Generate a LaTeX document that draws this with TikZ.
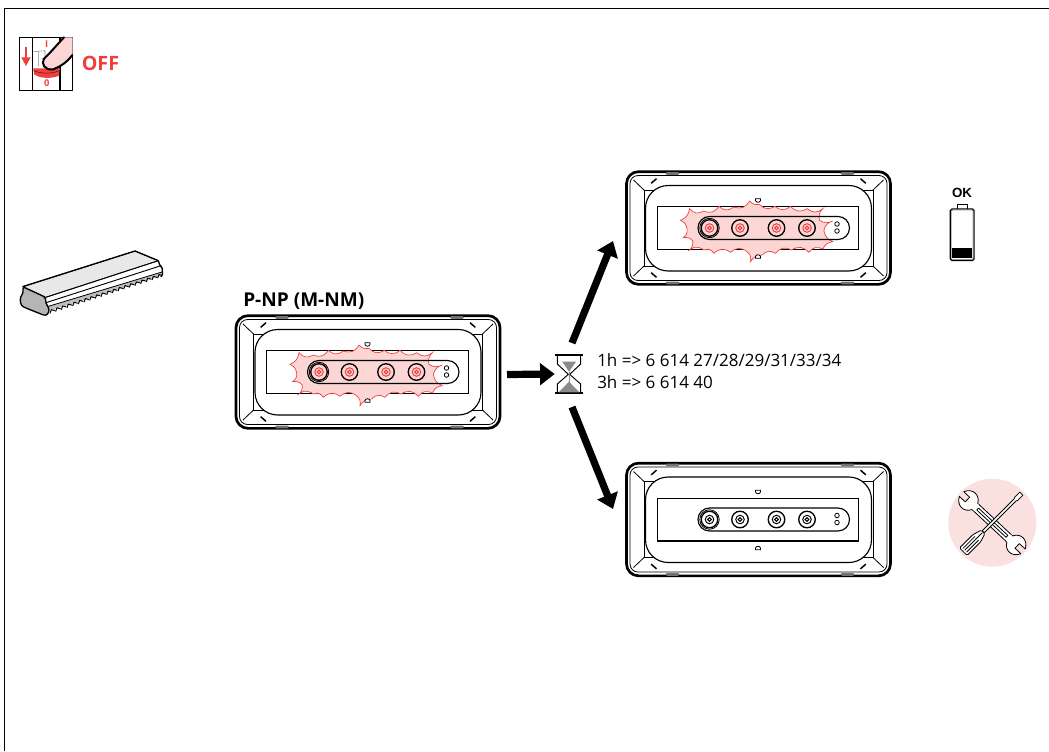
\documentclass[tikz,border=0pt]{standalone}
\usepackage{fontspec}
\setmainfont{Open Sans}
\newfontfamily\okfont{Liberation Sans}
\definecolor{alarm}{HTML}{EE3F3D}
\definecolor{blush}{HTML}{FBD6D5}
\definecolor{ghost}{HTML}{FBE0E0}
\definecolor{sand}{HTML}{8A8A8A}
\definecolor{face}{HTML}{E8E8E8}
\definecolor{endface}{HTML}{B5B5B5}
\usetikzlibrary{arrows.meta,calc}
\tikzset{
  thinl/.style={line width=.6pt,black},
  midl/.style={line width=.85pt,black},
  modbox/.style={draw=black,line width=2pt,rounded corners=9pt,minimum width=198pt,minimum height=84.5pt,inner sep=0pt,fill=white},
  bigarrow/.style={line width=5.4pt,black,-{Triangle[length=11pt,width=16pt]}},
  burst/.style={draw=alarm,line width=.5pt,fill=blush},
  zoomu/.style={x=.25pt,y=-.25pt},
  plain/.style={inner sep=0pt,anchor=west},
  sp/.style={bend right=38,looseness=1.2},
  sq/.style={bend right=28,looseness=1.1}
}
\newcommand{\lampbody}[3]{%
\begin{scope}[shift={#1}]
  \draw[thinl,rounded corners=6pt] (4.5,4.5) rectangle (261.5,109.5);
  \foreach \bx in {40,215}{
    \fill[black!55,rounded corners=1pt] (\bx,1) rectangle ++(14,2.8);
    \fill[black!55,rounded corners=1pt] (\bx,110.5) rectangle ++(14,2.8);
  }
  \draw[thinl] (18.5,19) rectangle (247.5,95);
  \draw[thinl] (8,9) -- (18.5,19) (258,9) -- (247.5,19) (8,105) -- (18.5,95) (258,105) -- (247.5,95);
  \draw[line width=1.1pt] (25.7,12.3) -- (31,7.7) (240.3,12.3) -- (235,7.7) (25.7,101.7) -- (31,106.3) (240.3,101.7) -- (235,106.3);
  \draw[midl,fill=white,rounded corners=17pt] (20,14.5) rectangle (246,100);
  \draw[midl] (31.7,35.7) rectangle (233.3,78.5);
  #3
  \draw[midl,rounded corners=8.6pt] (72.5,45.5) rectangle (224,68.5);
  \foreach \cx in {84,114.5,151,181.5}{
    \draw[line width=1pt] (\cx,57) circle[radius=6.2pt];
    \draw[#2,line width=.7pt] (\cx,57) circle[radius=3.2pt];
    \draw[#2,line width=.7pt] (\cx,57) circle[radius=1.4pt];
  }
  \draw[line width=.6pt] (84,57) circle[radius=7.3pt];
  \draw[thinl] (211.5,53) circle[radius=1.7pt] (211.5,60) circle[radius=1.7pt];
  \draw[thinl,fill=white] (130,27.7) -- (135,27.7) -- (135,29.5) .. controls (134.5,31.8) and (130.5,31.8) .. (130,29.5) -- cycle;
  \draw[thinl,fill=white] (130,87.3) -- (135,87.3) -- (135,85.5) .. controls (134.5,83.2) and (130.5,83.2) .. (130,85.5) -- cycle;
\end{scope}}
\newcommand{\burstshape}{%
\begin{scope}[shift={(-10,-30)},zoomu]
  \draw[burst] (195,238) to[sq] (222,203) to[sp] (265,210)
   to[sp] (310,196) to[sp] (355,198) to[sp] (402,180)
   to[sq] (432,190) to[sp] (478,196) to[sp] (525,196)
   to[sp] (575,203) to[sp] (622,203) to[sq] (612,238)
   to[sq] (652,240) to[sq] (625,268) to[sq] (652,302)
   to[sq] (622,324) to[sp] (580,334) to[sp] (528,327)
   to[sp] (480,337) to[sp] (440,342) to[sq] (405,362)
   to[sq] (395,332) to[sp] (345,334) to[sp] (295,337)
   to[sp] (265,327) to[sp] (218,330) to[sq] (232,300)
   to[sq] (203,290) to[sq] (215,265) to[sq] (195,238) -- cycle;
\end{scope}}
\begin{document}
\begin{tikzpicture}[x=.75pt,y=-.75pt]
\useasboundingbox (0,0) rectangle (1049,751);
% frame
\draw[line width=1pt] (4.5,751) -- (4.5,8.5) -- (1049,8.5);

% switch icon
\begin{scope}[zoomu]
  \draw[line width=.85pt] (58,112) rectangle (218,272);
  \draw[line width=.85pt] (98,112) -- (98,272) (180,112) -- (180,272);
  \draw[black!45,line width=.4pt] (101,155) -- (135,152) -- (135,200) (116,155) -- (116,200) (124,175) -- (150,175);
  \fill[alarm] (100,205) -- (180,205) -- (176,228) .. controls (150,236) and (125,236) .. (103,224) -- cycle;
  \draw[black!60!alarm,line width=.4pt] (100,212) .. controls (125,222) and (155,222) .. (178,212);
  \fill[alarm] (75,142) rectangle (81,175);
  \fill[alarm] (64,172) -- (92,172) -- (78,198) -- cycle;
  \fill[blush] (192,112) .. controls (170,135) and (150,160) .. (132,176) .. controls (122,192) and (135,212) .. (160,208) .. controls (180,200) and (200,188) .. (218,165) -- (218,112) -- cycle;
  \draw[line width=1.5pt,line cap=round] (192,112) .. controls (170,135) and (150,160) .. (132,176) .. controls (122,192) and (135,212) .. (160,208) .. controls (180,200) and (200,188) .. (217,165);
  \node[inner sep=0pt,text=alarm,font=\bfseries\fontsize{7}{7}\selectfont] (swI) at (140,133) {I};
  \node[inner sep=0pt,text=alarm,font=\bfseries\fontsize{7}{7}\selectfont] (sw0) at (140,250) {0};
\end{scope}
\node[plain,text=alarm,font=\bfseries\fontsize{14.8}{14.8}\selectfont] (off) at (81.5,63.5) {OFF};

% connector bar
\begin{scope}[shift={(10,240)},zoomu,line join=round]
  \fill[white] (38,140) -- (375,33) -- (445,62) -- (458,108) -- (118,222) -- (108,228) -- cycle;
  \fill[black!25] (112,200) -- (456,96) -- (456,106) -- (118,212) -- cycle;
  \foreach \i in {0,...,19}{
    \draw[line width=.75pt] ({120+\i*17},{220-\i*5.55}) -- ({124+\i*17},{209-\i*5.55}) -- ({135+\i*17},{212-\i*5.55});
  }
  \draw[fill=face,line width=.5pt] (38,140) -- (375,33) -- (445,62) -- (107,172) -- cycle;
  \draw[line width=1pt] (38,140) -- (375,33) -- (445,62);
  \draw[line width=.7pt] (107,172) -- (445,62) (450,78) -- (108,188);
  \draw[line width=.6pt] (112,200) -- (456,96);
  \draw[line width=1pt,rounded corners=1pt] (445,62) -- (450,78) -- (456,80) -- (458,106) -- (452,110);
  \draw[fill=endface,line width=1pt,rounded corners=2pt] (38,140) -- (40,160) -- (30,172) -- (33,197) -- (50,205) -- (108,228) -- (118,215) -- (115,200) -- (107,190) -- (107,172) -- cycle;
\end{scope}

% title
\node[plain,font=\bfseries\fontsize{14.3}{14.3}\selectfont] (title) at (243,301) {P-NP (M-NM)};

% modules
\node[modbox] (m1) at (368,372) {};
\node[modbox] (m2) at (758.5,228) {};
\node[modbox] (m3) at (758.5,519.5) {};
\lampbody{(235,315)}{alarm}{\burstshape}
\lampbody{(625.5,171)}{alarm}{\burstshape}
\lampbody{(625.5,462.5)}{black}{}

% hourglass
\node[minimum width=21pt,minimum height=31pt,inner sep=0pt] (hg) at (569,374) {};
\begin{scope}[shift={(500,340)},zoomu]
  \draw[line width=.7pt,fill=white] (172,45) -- (172,72) -- (205,103) -- (172,132) -- (172,159) -- (242,159) -- (242,132) -- (209,103) -- (242,72) -- (242,45) -- cycle;
  \draw[line width=.9pt] (164,45) -- (248,45) (164,159) -- (248,159);
  \fill[sand] (187,65) -- (228,65) -- (207,95) -- cycle;
  \fill[sand] (207,125) -- (238,157) -- (176,157) -- cycle;
  \draw[sand,line width=.6pt] (207,95) -- (207,125);
\end{scope}

% arrows
\coordinate (aS) at (507,374.5);
\coordinate (uS) at (572,343);
\coordinate (uE) at (613,241);
\coordinate (dS) at (572,407);
\coordinate (dE) at (613,509);
\draw[bigarrow] (aS) -- (hg.west);
\draw[bigarrow] (uS) -- (uE);
\draw[bigarrow] (dS) -- (dE);

% labels
\node[plain,font=\fontsize{12.75}{12.75}\selectfont] (t1) at (597,360) {1h => 6 614 27/28/29/31/33/34};
\node[plain,font=\fontsize{12.75}{12.75}\selectfont] (t3) at (597,382) {3h => 6 614 40};

% battery
\node[inner sep=0pt,font=\okfont\bfseries\fontsize{10}{10}\selectfont] (ok) at (962,193) {OK};
\draw[line width=.6pt,fill=white] (957.5,209) -- (957.5,204.5) -- (967,204.5) -- (967,209);
\draw[line width=.9pt,rounded corners=1.2pt] (950.3,209) rectangle (974,260.5);
\draw[black!40,line width=.4pt,rounded corners=1pt] (951.3,210) rectangle (973,259.5);
\fill[black] (952,248) rectangle (972.3,258.3);

% tools
\fill[ghost] (992.3,522.7) circle[radius=33pt];
\begin{scope}[shift={(992.3,522.7)},rotate=-43,line join=round]
  \draw[thinl,fill=white] (-27,-4.2) -- (27,-4.2) -- (27,4.2) -- (-27,4.2) -- cycle;
  \foreach \s in {0,180}{
    \begin{scope}[rotate=\s]
      \draw[thinl,fill=white] (42,-3.2) .. controls (38,-12) and (28,-12) .. (24,-4.5) -- (24,4.5) .. controls (28,12) and (38,12) .. (42,3.2) -- (34,3.2) -- (34,-3.2) -- cycle;
      \fill[white] (22,-3.8) rectangle (26,3.8);
    \end{scope}
  }
  \draw[thinl] (-20,-1.3) rectangle (20,1.3);
\end{scope}
\begin{scope}[shift={(992.3,522.7)},rotate=45,line join=round]
  \draw[thinl,fill=white] (-13,-1.4) -- (32,-1.4) -- (34,-2.2) -- (41,-2.2) -- (41,2.2) -- (34,2.2) -- (32,1.4) -- (-13,1.4) -- cycle;
  \draw[thinl,fill=white,rounded corners=1pt] (-41,-5.3) -- (-22,-5.3) -- (-13,-2.5) -- (-13,2.5) -- (-22,5.3) -- (-41,5.3) -- cycle;
  \draw[thinl] (-39,-2.6) -- (-22,-2.6) (-39,0) -- (-14,0) (-39,2.6) -- (-22,2.6);
\end{scope}
\end{tikzpicture}
\end{document}
